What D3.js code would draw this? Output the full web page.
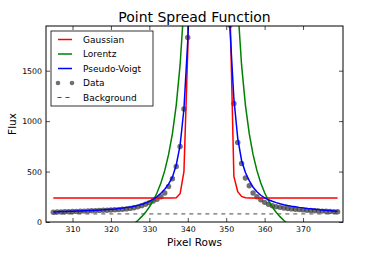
<!DOCTYPE html>
<html><head><meta charset="utf-8">
<script src="https://cdn.jsdelivr.net/npm/d3@7"></script>
<style>body{margin:0;background:#fff}svg{display:block;font-family:"DejaVu Sans",sans-serif}</style>
</head><body><svg id="c" width="368" height="261"></svg>
<script>
const pixelRows = d3.range(305, 380);
const dataFlux = [
  97,99,100,101,102,104,105,107,108,110,
  111,113,114,116,117,119,121,123,126,130,
  135,141,150,162,176,192,208,225,250,287,
  352,429,550,748,1120,1830,2700,3800,5000,6200,
  7000,7300,6600,5300,3900,2700,1950,1174,788,580,
  436,360,287,250,221,195,175,162,152,145,
  139,134,130,126,123,120,117,114,112,110,
  108,106,104,103,102];
const gaussFlux = [
  238,238,238,238,238,238,238,238,238,238,
  238,238,238,238,238,238,238,238,238,238,
  238,238,238,238,238,238,238,238,238,238,
  238,238,240,280,500,1700,4000,7000,9500,10500,
  10700,10200,8500,6500,4500,3000,2100,451,300,253,
  240,238,238,238,238,238,238,238,238,238,
  238,238,238,238,238,238,238,238,238,238,
  238,238,238,238,238];
const lorentzFlux = [
  -233,-229,-226,-222,-218,-214,-209,-204,-198,-192,
  -184,-176,-167,-158,-147,-134,-120,-105,-87,-67,
  -43,-16,15,53,96,149,212,290,386,509,
  667,876,1159,1557,2143,3048,4567,6500,8500,11000,
  14000,16000,14000,11000,8500,6500,4567,3048,2143,1557,
  1159,876,667,509,386,290,212,149,96,53,
  15,-16,-43,-67,-87,-105,-120,-134,-147,-158,
  -167,-176,-184,-192,-198];
const voigtFlux = [
  100,101,103,104,106,107,109,110,112,113,
  115,117,119,121,124,127,130,134,138,143,
  149,156,165,176,189,205,226,252,285,325,
  375,445,565,760,1120,1800,2800,4200,5800,7000,
  7500,7300,6400,5000,3800,2800,1900,1220,830,610,
  490,410,345,300,265,240,220,205,192,181,
  172,164,157,151,145,140,135,131,127,123,
  120,116,113,110,107];
const backgroundFlux = 80;
const xTicks = [310,320,330,340,350,360,370];
const yTicks = [0,500,1000,1500];
const seriesNames = ["Gaussian","Lorentz","Pseudo-Voigt","Data","Background"];

const svg = d3.select("#c");
const L = 46, R = 343, T = 26, B = 222;
const x = d3.scaleLinear().domain([303.1, 380.4]).range([L, R]);
const y = d3.scaleLinear().domain([0, 1943]).range([B, T]);

svg.append("defs").append("clipPath").attr("id","clip")
  .append("rect").attr("x",L).attr("y",T).attr("width",R-L).attr("height",B-T);

const plot = svg.append("g").attr("clip-path","url(#clip)");
const line = d3.line().x((d,i)=>x(pixelRows[i])).y(d=>y(d));

plot.append("line").attr("x1",x(305)).attr("x2",x(379)).attr("y1",y(backgroundFlux)).attr("y2",y(backgroundFlux))
  .attr("stroke","#000").attr("stroke-width",1).attr("stroke-dasharray","4,4").attr("opacity",0.7);

plot.selectAll("circle.d").data(dataFlux).join("circle")
  .attr("cx",(d,i)=>x(pixelRows[i])).attr("cy",d=>y(d)).attr("r",2.7)
  .attr("fill","#333").attr("opacity",0.7);

const curves = [[gaussFlux,"#ff0000"],[lorentzFlux,"#008000"],[voigtFlux,"#0000ff"]];
curves.forEach(([arr,col])=>{
  plot.append("path").datum(arr).attr("d",line).attr("fill","none").attr("stroke",col).attr("stroke-width",1.5);
});

const ax = svg.append("g");
const xb = d3.axisBottom(x).tickValues(xTicks).tickSize(-4).tickPadding(4).tickFormat(d3.format("d"));
const xt = d3.axisTop(x).tickValues(xTicks).tickSize(-4).tickFormat("");
const yl = d3.axisLeft(y).tickValues(yTicks).tickSize(-4).tickPadding(4).tickFormat(d3.format("d"));
const yr = d3.axisRight(y).tickValues(yTicks).tickSize(-4).tickFormat("");
ax.append("g").attr("transform",`translate(0,${B})`).call(xb);
ax.append("g").attr("transform",`translate(0,${T})`).call(xt);
ax.append("g").attr("transform",`translate(${L},0)`).call(yl);
ax.append("g").attr("transform",`translate(${R},0)`).call(yr);
ax.selectAll(".domain").remove();
ax.selectAll(".tick line").attr("stroke","#000").attr("stroke-width",0.7);
ax.selectAll(".tick text").attr("font-size",7.8).attr("fill","#000").attr("font-family","DejaVu Sans");
svg.append("rect").attr("x",L).attr("y",T).attr("width",R-L).attr("height",B-T)
  .attr("fill","none").attr("stroke","#000").attr("stroke-width",1);

svg.append("text").attr("x",(L+R)/2).attr("y",22).attr("text-anchor","middle").attr("font-size",14).text("Point Spread Function");
svg.append("text").attr("x",(L+R)/2).attr("y",246).attr("text-anchor","middle").attr("font-size",10.5).text("Pixel Rows");
svg.append("text").attr("transform",`translate(16,${(T+B)/2}) rotate(-90)`).attr("text-anchor","middle").attr("font-size",10.5).text("Flux");

const lg = svg.append("g");
lg.append("rect").attr("x",51).attr("y",31).attr("width",102).attr("height",75).attr("fill","#fff").attr("stroke","#000").attr("stroke-width",0.8);
const ly = [39.5,54,68.5,83,97.5];
const styles = ["#ff0000","#008000","#0000ff"];
seriesNames.forEach((n,i)=>{
  if(i<3){
    lg.append("line").attr("x1",58).attr("x2",72).attr("y1",ly[i]).attr("y2",ly[i]).attr("stroke",styles[i]).attr("stroke-width",1.5);
  } else if(i===3){
    [58,72].forEach(cx=>lg.append("circle").attr("cx",cx).attr("cy",ly[i]).attr("r",2.3).attr("fill","#333").attr("opacity",0.7));
  } else {
    lg.append("line").attr("x1",57).attr("x2",73).attr("y1",ly[i]).attr("y2",ly[i]).attr("stroke","#000").attr("stroke-dasharray","4,4").attr("stroke-dashoffset",-0.5).attr("opacity",0.7);
  }
  lg.append("text").attr("x",83).attr("y",ly[i]+3.2).attr("font-size",9).text(n);
});
</script></body></html>
